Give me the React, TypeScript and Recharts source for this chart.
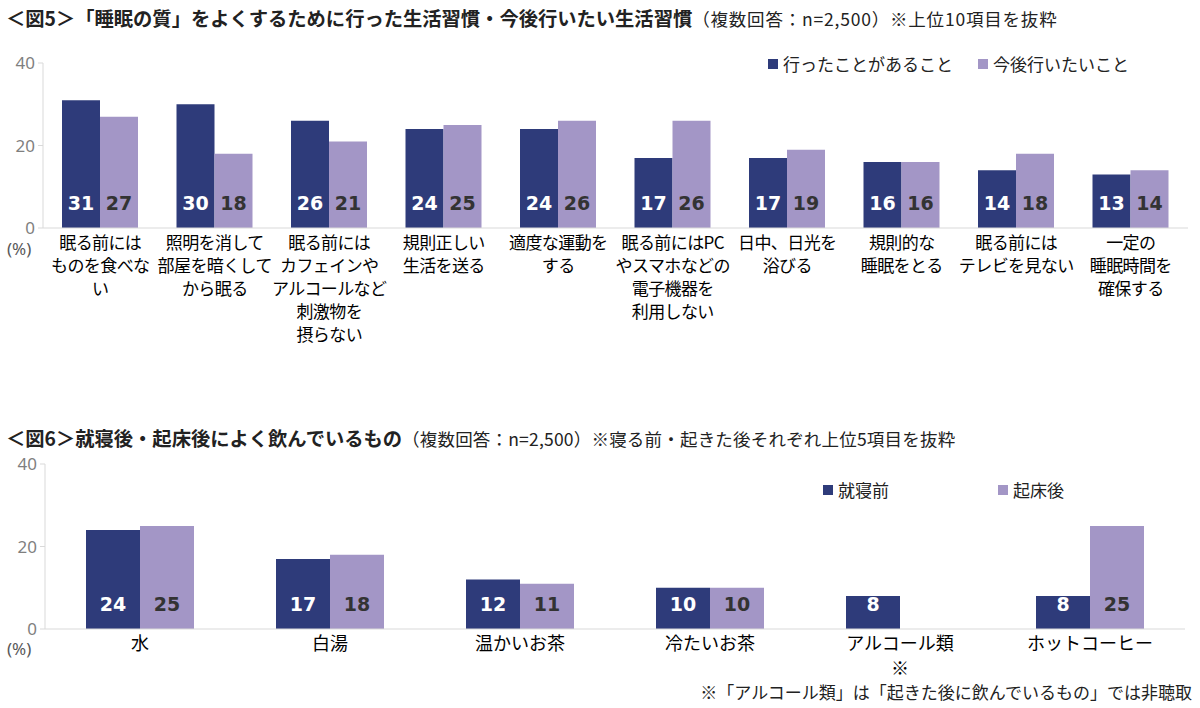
// Two grouped bar charts: sleep habits (図5) and drinks before/after sleep (図6).
import { BarChart, Bar, XAxis, YAxis, LabelList } from 'recharts';

const DARK = '#2E3B7A';
const LIGHT = '#A396C6';
const JP = '"Noto Sans CJK JP", "Noto Sans", sans-serif';

// 図5
const habitCategories = [
  '眠る前には\nものを食べな\nい',
  '照明を消して\n部屋を暗くして\nから眠る',
  '眠る前には\nカフェインや\nアルコールなど\n刺激物を\n摂らない',
  '規則正しい\n生活を送る',
  '適度な運動を\nする',
  '眠る前にはPC\nやスマホなどの\n電子機器を\n利用しない',
  '日中、日光を\n浴びる',
  '規則的な\n睡眠をとる',
  '眠る前には\nテレビを見ない',
  '一定の\n睡眠時間を\n確保する',
];
const habitDone = [31, 30, 26, 24, 24, 17, 17, 16, 14, 13];
const habitWant = [27, 18, 21, 25, 26, 26, 19, 16, 18, 14];
const habitSeries = ['行ったことがあること', '今後行いたいこと'];

// 図6
const drinkCategories = ['水', '白湯', '温かいお茶', '冷たいお茶', 'アルコール類\n※', 'ホットコーヒー'];
const drinkBefore = [24, 17, 12, 10, 8, 8];
const drinkAfter: (number | null)[] = [25, 18, 11, 10, null, 25];
const drinkSeries = ['就寝前', '起床後'];

const yTicks = [0, 20, 40];

const habitData = habitCategories.map((name, i) => ({ name, a: habitDone[i], b: habitWant[i] }));
const drinkData = drinkCategories.map((name, i) => ({ name, a: drinkBefore[i], b: drinkAfter[i] }));

function CatTick({ x, y, payload, size, lh, first, ls }: any) {
  const lines = String(payload.value).split('\n');
  return (
    <text x={x} y={y} textAnchor="middle" fontSize={size} fill="#000" fontFamily={JP} letterSpacing={ls}>
      {lines.map((l, i) => (
        <tspan key={i} x={x} dy={i === 0 ? first : lh}>{l}</tspan>
      ))}
    </text>
  );
}

const valueLabel = (fill: string) => (p: any) => {
  const { x, y, width, height, value } = p;
  if (value == null) return null;
  return (
    <text x={x + width / 2} y={y + height - 18} textAnchor="middle" fontSize={19}
          fontWeight="bold" fontFamily='"DejaVu Sans", sans-serif' fill={fill}>
      {value}
    </text>
  );
};

function LegendItem({ color, label, left, top }: { color: string; label: string; left: number; top: number }) {
  return (
    <div style={{ position: 'absolute', left, top, display: 'flex', alignItems: 'center', fontFamily: JP, fontSize: 17, color: '#222', whiteSpace: 'nowrap' }}>
      <span style={{ width: 10, height: 10, background: color, marginRight: 5 }} />
      {label}
    </div>
  );
}

const axisTick = { fill: '#7f7f7f', fontSize: 17, fontFamily: '"Noto Sans", sans-serif' };
const subStyle = { fontSize: 17.5, letterSpacing: 0.8 };
const pctStyle = { position: 'absolute' as const, left: 7, fontSize: 17, lineHeight: '17px', color: '#595959', fontFamily: '"Noto Sans", sans-serif' };

export default function App() {
  return (
    <div style={{ position: 'absolute', left: 0, top: 0, width: 1200, height: 708, background: '#fff', overflow: 'hidden' }}>
      {/* titles */}
      <div style={{ position: 'absolute', left: 6, top: 4, fontFamily: JP, whiteSpace: 'nowrap', color: '#222' }}>
        <span style={{ fontSize: 19.3, fontWeight: 'bold' }}>＜図5＞「睡眠の質」をよくするために行った生活習慣・今後行いたい生活習慣</span>
        <span style={subStyle}>（複数回答：n=2,500）※上位10項目を抜粋</span>
      </div>
      <div style={{ position: 'absolute', left: 6, top: 424, fontFamily: JP, whiteSpace: 'nowrap', color: '#222' }}>
        <span style={{ fontSize: 19.3, fontWeight: 'bold' }}>＜図6＞就寝後・起床後によく飲んでいるもの</span>
        <span style={{ ...subStyle, letterSpacing: 0.2 }}>（複数回答：n=2,500）※寝る前・起きた後それぞれ上位5項目を抜粋</span>
      </div>

      {/* chart 1 */}
      <div style={{ position: 'absolute', left: 0, top: 0 }}>
        <BarChart width={1200} height={400} data={habitData} barGap={0} barSize={38}
                  margin={{ top: 63, right: 12, bottom: 32, left: 0 }}>
          <XAxis dataKey="name" height={140} interval={0} axisLine={{ stroke: '#d9d9d9' }} tickLine={false}
                 tick={<CatTick size={17} lh={23} first={13} ls={-0.6} />} />
          <YAxis width={43} domain={[0, 40]} ticks={yTicks} tickSize={5} tickMargin={3}
                 axisLine={{ stroke: '#d9d9d9' }} tickLine={{ stroke: '#d9d9d9' }} tick={axisTick} />
          <Bar dataKey="a" fill={DARK} isAnimationActive={false}>
            <LabelList dataKey="a" content={valueLabel('#fff')} />
          </Bar>
          <Bar dataKey="b" fill={LIGHT} isAnimationActive={false}>
            <LabelList dataKey="b" content={valueLabel('#333')} />
          </Bar>
        </BarChart>
      </div>
      <div style={{ ...pctStyle, top: 240 }}>(%)</div>
      <LegendItem color={DARK} label={habitSeries[0]} left={768} top={51} />
      <LegendItem color={LIGHT} label={habitSeries[1]} left={978} top={51} />

      {/* chart 2 */}
      <div style={{ position: 'absolute', left: 0, top: 400 }}>
        <BarChart width={1200} height={308} data={drinkData} barGap={0} barSize={54}
                  margin={{ top: 64, right: 15, bottom: 19, left: 0 }}>
          <XAxis dataKey="name" height={60} interval={0} axisLine={{ stroke: '#d9d9d9' }} tickLine={false}
                 tick={<CatTick size={18} lh={25} first={13} ls={0} />} />
          <YAxis width={45} domain={[0, 40]} ticks={yTicks} tickSize={5} tickMargin={3}
                 axisLine={{ stroke: '#d9d9d9' }} tickLine={{ stroke: '#d9d9d9' }} tick={axisTick} />
          <Bar dataKey="a" fill={DARK} isAnimationActive={false}>
            <LabelList dataKey="a" content={valueLabel('#fff')} />
          </Bar>
          <Bar dataKey="b" fill={LIGHT} isAnimationActive={false}>
            <LabelList dataKey="b" content={valueLabel('#333')} />
          </Bar>
        </BarChart>
      </div>
      <div style={{ ...pctStyle, top: 640 }}>(%)</div>
      <LegendItem color={DARK} label={drinkSeries[0]} left={823} top={477} />
      <LegendItem color={LIGHT} label={drinkSeries[1]} left={998} top={477} />
      <div style={{ position: 'absolute', right: 8, top: 679, fontSize: 17, color: '#222', fontFamily: JP, whiteSpace: 'nowrap' }}>
        ※「アルコール類」は「起きた後に飲んでいるもの」では非聴取
      </div>
    </div>
  );
}
